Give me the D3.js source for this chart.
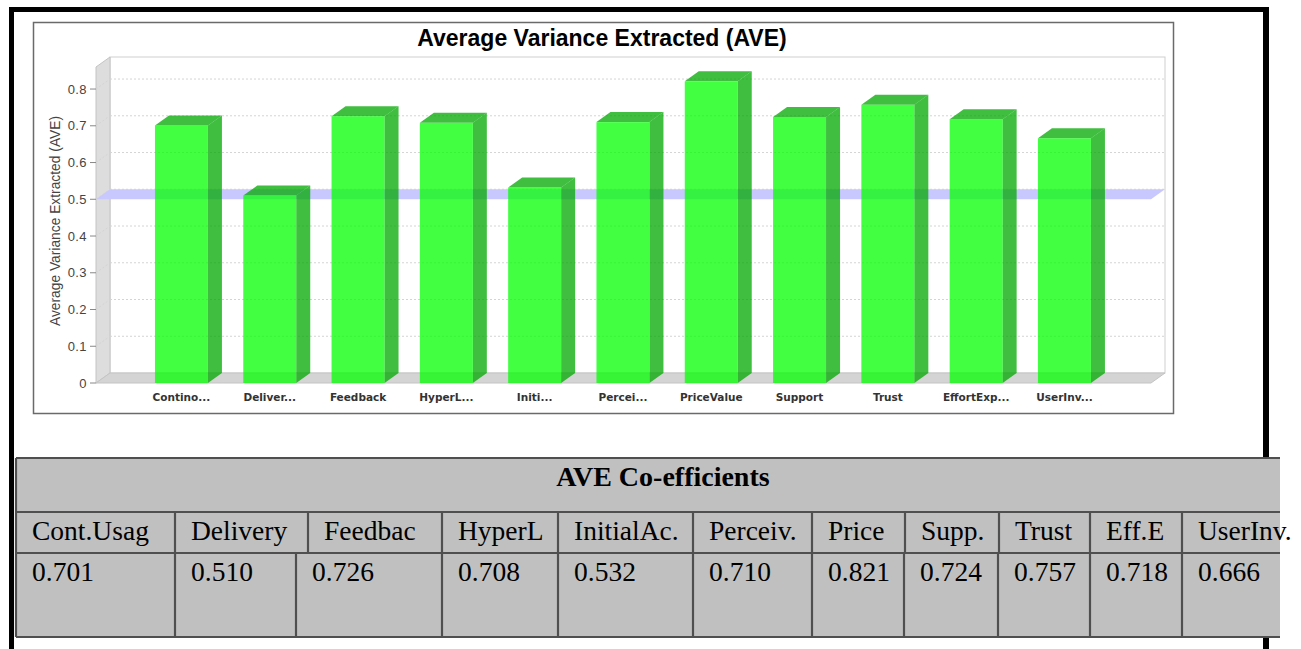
<!DOCTYPE html>
<html>
<head>
<meta charset="utf-8">
<script src="https://cdn.jsdelivr.net/npm/d3@7"></script>
<style>
  html, body { margin: 0; padding: 0; background: #fff; }
  svg { display: block; }
</style>
</head>
<body>
<svg id="chart" width="1301" height="649"></svg>
<script>
// ---- data ----
const categories = ["Contino...", "Deliver...", "Feedback", "HyperL...", "Initi...", "Percei...",
                    "PriceValue", "Support", "Trust", "EffortExp...", "UserInv..."];
const aveValues = [0.701, 0.510, 0.726, 0.708, 0.532, 0.710, 0.821, 0.724, 0.757, 0.718, 0.666];
const yTicks = [0, 0.1, 0.2, 0.3, 0.4, 0.5, 0.6, 0.7, 0.8];
const thresholdValue = 0.5;
const tableTitle = "AVE Co-efficients";
const tableHeaders = ["Cont.Usag", "Delivery", "Feedbac", "HyperL", "InitialAc.", "Perceiv.",
                      "Price", "Supp.", "Trust", "Eff.E", "UserInv."];
const tableValues = aveValues.map(d3.format(".3f"));

// ---- layout ----
const svg = d3.select("#chart");
const depthX = 14, depthY = 10;          // 3D offset of the plot
const frontLeft = 96, frontRight = 1151; // front edge of the floor
const y = d3.scaleLinear().domain([0, 0.86]).range([383, 67]);
const x = d3.scaleBand().domain(categories).range([137.3, 1108.6]).paddingInner(0.4).paddingOuter(0.2);

// page frame
svg.append("rect").attr("x", 9).attr("y", 7).attr("width", 1260).attr("height", 5).attr("fill", "#000");
svg.append("rect").attr("x", 9).attr("y", 7).attr("width", 5).attr("height", 642).attr("fill", "#000");
svg.append("rect").attr("x", 1263).attr("y", 7).attr("width", 6).attr("height", 642).attr("fill", "#000");

// chart panel
svg.append("rect").attr("x", 33.5).attr("y", 22.5).attr("width", 1140).attr("height", 391)
  .attr("fill", "#fff").attr("stroke", "#6a6a6a").attr("stroke-width", 1.5);

svg.append("text").attr("x", 602).attr("y", 46).attr("text-anchor", "middle")
  .attr("font-family", "Liberation Sans, Arial, sans-serif").attr("font-weight", "bold")
  .attr("font-size", 23).attr("fill", "#000").text("Average Variance Extracted (AVE)");

const y0 = y(0), yTop = y(0.86);
// back wall
svg.append("rect").attr("x", frontLeft + depthX).attr("y", yTop - depthY)
  .attr("width", frontRight - frontLeft).attr("height", y0 - yTop)
  .attr("fill", "#fff").attr("stroke", "#cfcfcf").attr("stroke-width", 1);
// left wall
svg.append("polygon")
  .attr("points", [[frontLeft, yTop], [frontLeft + depthX, yTop - depthY], [frontLeft + depthX, y0 - depthY], [frontLeft, y0]].join(" "))
  .attr("fill", "#dddddd").attr("stroke", "#c4c4c4").attr("stroke-width", 1);
// floor
svg.append("polygon")
  .attr("points", [[frontLeft, y0], [frontLeft + depthX, y0 - depthY], [frontRight + depthX, y0 - depthY], [frontRight, y0]].join(" "))
  .attr("fill", "#d4d4d4").attr("stroke", "#c4c4c4").attr("stroke-width", 1);

// gridlines on the walls
const grid = svg.append("g").attr("stroke", "#d4d4d4").attr("stroke-width", 1).attr("stroke-dasharray", "2,2");
yTicks.filter(t => t > 0).forEach(t => {
  grid.append("line").attr("x1", frontLeft + depthX).attr("x2", frontRight + depthX)
    .attr("y1", y(t) - depthY).attr("y2", y(t) - depthY);
  grid.append("line").attr("x1", frontLeft).attr("x2", frontLeft + depthX)
    .attr("y1", y(t)).attr("y2", y(t) - depthY);
});

// threshold plane at 0.5
const yt = y(thresholdValue);
svg.append("polygon")
  .attr("points", [[frontLeft, yt], [frontLeft + depthX, yt - depthY], [frontRight + depthX, yt - depthY], [frontRight, yt]].join(" "))
  .attr("fill", "#c8c8ff");

// y axis ticks and labels
const axis = svg.append("g");
yTicks.forEach(t => {
  axis.append("line").attr("x1", 90).attr("x2", frontLeft).attr("y1", y(t)).attr("y2", y(t))
    .attr("stroke", "#888").attr("stroke-width", 1);
  axis.append("text").attr("x", 87).attr("y", y(t)).attr("dy", "0.36em").attr("text-anchor", "end")
    .attr("font-family", "Liberation Sans, Arial, sans-serif").attr("font-size", 13)
    .attr("letter-spacing", 0.4).attr("fill", "#444").text(d3.format("")(t));
});
svg.append("text").attr("transform", "translate(60,221) rotate(-90)").attr("text-anchor", "middle")
  .attr("font-family", "Liberation Sans, Arial, sans-serif").attr("font-size", 13.8)
  .attr("fill", "#444").text("Average Variance Extracted (AVE)");

// 3D bars
const bars = svg.append("g").selectAll("g").data(categories.map((c, i) => ({ c, v: aveValues[i] })))
  .join("g");
const bw = x.bandwidth();
bars.append("polygon").attr("fill", "rgba(0,168,0,0.75)")
  .attr("points", d => { const x0 = x(d.c) + bw, yv = y(d.v);
    return [[x0, yv], [x0 + depthX, yv - depthY], [x0 + depthX, y0 - depthY], [x0, y0]].join(" "); });
bars.append("polygon").attr("fill", "rgba(0,168,0,0.75)")
  .attr("points", d => { const x0 = x(d.c), yv = y(d.v);
    return [[x0, yv], [x0 + depthX, yv - depthY], [x0 + bw + depthX, yv - depthY], [x0 + bw, yv]].join(" "); });
bars.append("rect").attr("fill", "rgba(0,255,0,0.74)")
  .attr("x", d => x(d.c)).attr("y", d => y(d.v)).attr("width", bw).attr("height", d => y0 - y(d.v));

// category labels
svg.append("g").selectAll("text").data(categories).join("text")
  .attr("x", d => x(d) + bw / 2).attr("y", 401).attr("text-anchor", "middle")
  .attr("font-family", "DejaVu Sans, sans-serif").attr("font-weight", "bold").attr("font-size", 10.5)
  .attr("fill", "#333").text(d => d);

// ---- table ----
const tTop = 458, tRow1 = 512, tRow2 = 553, tBottom = 637;
const headEdges = [16, 175, 308, 442, 558, 693, 812, 905, 999, 1090, 1182, 1280];
const dataEdges = [16, 175, 296, 442, 558, 693, 812, 904, 998, 1090, 1182, 1280];
const tbl = svg.append("g");
tbl.append("rect").attr("x", 16).attr("y", tTop).attr("width", 1264).attr("height", tBottom - tTop)
  .attr("fill", "#c0c0c0");
const lineColor = "#4f4f4f";
[tTop, tRow1, tRow2, tBottom].forEach(yy => tbl.append("line").attr("x1", 16).attr("x2", 1280)
  .attr("y1", yy).attr("y2", yy).attr("stroke", lineColor).attr("stroke-width", 2.2));
tbl.append("line").attr("x1", 16).attr("x2", 16).attr("y1", tTop).attr("y2", tBottom)
  .attr("stroke", lineColor).attr("stroke-width", 2.2);
headEdges.slice(1, -1).forEach(e => tbl.append("line").attr("x1", e).attr("x2", e)
  .attr("y1", tRow1).attr("y2", tRow2).attr("stroke", lineColor).attr("stroke-width", 2.2));
dataEdges.slice(1, -1).forEach(e => tbl.append("line").attr("x1", e).attr("x2", e)
  .attr("y1", tRow2).attr("y2", tBottom).attr("stroke", lineColor).attr("stroke-width", 2.2));

tbl.append("text").attr("x", 663).attr("y", 486).attr("text-anchor", "middle")
  .attr("font-family", "Liberation Serif, Times New Roman, serif").attr("font-weight", "bold")
  .attr("font-size", 28).attr("fill", "#000").text(tableTitle);
tbl.append("g").selectAll("text").data(tableHeaders).join("text")
  .attr("x", (d, i) => headEdges[i] + 16).attr("y", 540)
  .attr("font-family", "Liberation Serif, Times New Roman, serif").attr("font-size", 27.5)
  .attr("fill", "#000").text(d => d);
tbl.append("g").selectAll("text").data(tableValues).join("text")
  .attr("x", (d, i) => dataEdges[i] + 16).attr("y", 581)
  .attr("font-family", "Liberation Serif, Times New Roman, serif").attr("font-size", 27.5)
  .attr("fill", "#000").text(d => d);
</script>
</body>
</html>
